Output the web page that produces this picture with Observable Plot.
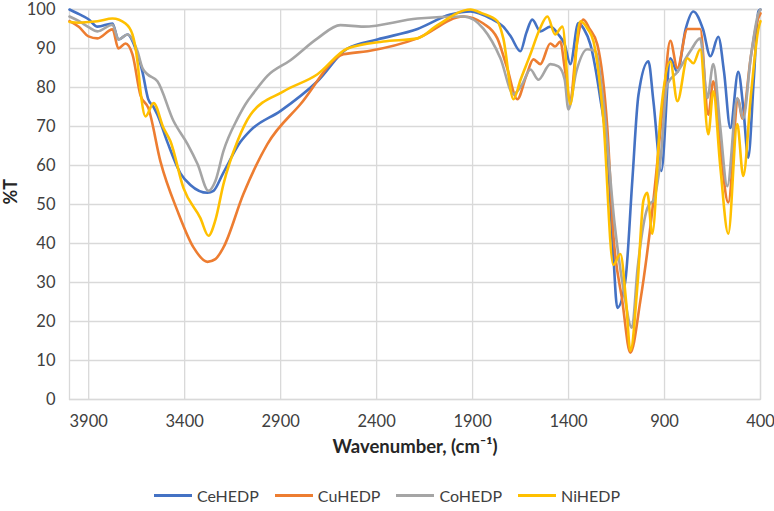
<!DOCTYPE html>
<html>
<head>
<meta charset="utf-8">
<script src="https://cdn.jsdelivr.net/npm/d3@7"></script>
<script src="https://cdn.jsdelivr.net/npm/@observablehq/plot@0.6"></script>
<style>
  html, body { margin: 0; padding: 0; background: #fff; }
  #chart { width: 774px; height: 511px; position: relative; font-family: "Lato", sans-serif; }
  #chart svg { overflow: visible; }
  #legend { position: absolute; left: 0; top: 486px; width: 774px; display: flex; justify-content: center; gap: 16px; font-size: 16px; color: #404040; }
  .item { display: flex; align-items: center; gap: 5px; }
  .sw { width: 38px; height: 3px; display: inline-block; }
</style>
</head>
<body>
<div id="chart"></div>
<script>
const seriesNames = ["CeHEDP", "CuHEDP", "CoHEDP", "NiHEDP"];
const seriesColors = ["#4472C4", "#ED7D31", "#A5A5A5", "#FFC000"];
const xTicks = [3900, 3400, 2900, 2400, 1900, 1400, 900, 400];
const yTicks = [0, 10, 20, 30, 40, 50, 60, 70, 80, 90, 100];

// [wavenumber, %T]
const ceHEDP = [[4000,100],[3950,98.8],[3901,97.5],[3854,95.6],[3776,96.4],[3745,92.3],[3698,93.6],[3656,90],[3620,84],[3590,77],[3562,75],[3542,73],[3490,66],[3422,58],[3370,55],[3281,53],[3250,53.5],[3200,58],[3110,66],[3057,69],[2900,74],[2708,81.6],[2552,90],[2396,92.3],[2187,95],[2016,98.7],[1911,99.5],[1807,97.7],[1740,95.6],[1700,93],[1651,89.3],[1620,94],[1589,97.4],[1547,94.4],[1495,95.6],[1453,93.6],[1420,91],[1391,86],[1349,96.5],[1320,95],[1286,91],[1234,77],[1198,63.7],[1167,37.3],[1146,23.5],[1104,30.5],[1068,56],[1036,78],[984,86.7],[958,76.5],[917,58.6],[870,87.5],[833,84],[790,95],[750,99.5],[700,95],[661,88],[620,93],[590,84],[557,69.6],[516,84],[490,75],[464,62],[435,82],[411,99.5],[400,100]];
const cuHEDP = [[4000,97],[3950,95.5],[3901,93.1],[3854,92.6],[3776,94.9],[3745,90],[3708,91.3],[3672,88.5],[3630,78],[3589,74.7],[3526,61],[3437,48.3],[3354,39],[3281,35.3],[3240,36],[3198,39],[3094,52.7],[2969,65.5],[2797,75.7],[2573,88.5],[2448,89.3],[2187,92.6],[1948,98.2],[1844,96.4],[1771,92.6],[1720,85],[1667,77],[1620,83],[1583,87.2],[1547,86],[1495,91.3],[1470,90.5],[1443,91.8],[1420,85],[1391,76.5],[1360,90],[1323,97.4],[1290,95],[1250,91],[1198,69.6],[1167,42.5],[1120,25.3],[1078,12],[1026,25.3],[958,51],[906,76.5],[870,92],[833,85],[781,95],[714,95],[672,73],[646,81.6],[610,65],[568,50.5],[516,77],[495,72],[450,88],[417,97],[400,99]];
const coHEDP = [[4000,98.2],[3950,97],[3901,95.5],[3854,94.4],[3776,96.1],[3745,92.3],[3698,93.6],[3646,89.3],[3620,85],[3594,83.4],[3542,81.6],[3458,71.4],[3385,65.5],[3333,60.4],[3276,53.5],[3240,56],[3198,63.7],[3125,72],[3073,76.5],[3050,78],[2969,83],[2849,87],[2708,92.6],[2589,96],[2469,95.6],[2187,97.7],[1948,98.2],[1844,95.1],[1755,87.5],[1687,78.3],[1640,81],[1599,84.6],[1557,82],[1495,86],[1453,85.4],[1420,82],[1401,74.4],[1360,84],[1302,89.8],[1260,89.3],[1219,76.5],[1160,45],[1115,28.6],[1070,18.4],[1040,33.8],[990,49],[970,50.5],[958,51],[922,61],[886,80.8],[833,84],[766,89.3],[714,92.6],[677,77.3],[646,86],[610,70],[573,54.7],[521,77.3],[490,72],[450,88],[411,99],[400,100]];
const niHEDP = [[4000,96.8],[3950,96.6],[3901,96.8],[3854,97],[3776,97.7],[3708,96.4],[3672,93.6],[3646,86.7],[3630,79],[3604,72.6],[3562,76],[3510,69.6],[3474,66.2],[3406,54.2],[3318,46.5],[3276,42],[3240,46],[3198,55.2],[3125,66.2],[3057,73],[2885,79],[2708,83.4],[2552,90],[2365,91.8],[2187,92.6],[2083,96],[1911,100],[1850,99],[1771,97],[1740,92.6],[1687,77],[1650,82],[1599,88.5],[1550,95],[1510,98.2],[1470,93.6],[1432,95.6],[1391,75.7],[1339,97],[1300,95],[1270,91.8],[1219,72],[1167,34.5],[1130,37.3],[1100,25],[1078,12.5],[1040,30],[1010,51],[990,53],[964,42.5],[922,72],[870,86.7],[833,76.5],[781,87.5],[750,86.2],[714,89.8],[672,68],[646,79],[610,60],[568,42.5],[521,70.6],[490,57.3],[450,78],[411,95],[400,97]];

const seriesData = [ceHEDP, cuHEDP, coHEDP, niHEDP];
const rows = [];
seriesData.forEach((arr, i) => arr.forEach(([w, t]) => rows.push({series: seriesNames[i], w, t})));

const chart = Plot.plot({
  width: 774,
  height: 486,
  marginLeft: 69,
  marginRight: 14,
  marginTop: 9,
  marginBottom: 87,
  style: {fontFamily: "Lato, sans-serif", fontSize: "16px", color: "#404040", background: "white", overflow: "visible"},
  x: {domain: [4000, 400], label: null},
  y: {domain: [0, 100], label: null},
  color: {domain: seriesNames, range: seriesColors},
  marks: [
    Plot.gridX(xTicks, {stroke: "#d9d9d9", strokeOpacity: 1, strokeWidth: 1.3}),
    Plot.gridY(yTicks, {stroke: "#d9d9d9", strokeOpacity: 1, strokeWidth: 1.3}),
    Plot.frame({stroke: "#d9d9d9", strokeWidth: 1.3}),
    Plot.axisX(xTicks, {tickSize: 0, tickPadding: 16, label: null, fontSize: 16.5, tickFormat: d => String(d)}),
    Plot.axisY(yTicks, {tickSize: 0, tickPadding: 14, label: null, fontSize: 16.5, tickFormat: d => String(d)}),
    Plot.line(rows, {x: "w", y: "t", z: "series", stroke: "series", strokeWidth: 2.6, curve: "monotone-x"}),
    Plot.text(["Wavenumber, (cm\u207B\u00B9)"], {frameAnchor: "bottom", dy: 53, fontWeight: "bold", fontSize: 18.5, fill: "#262626"}),
    Plot.text(["%T"], {frameAnchor: "left", dx: -58, rotate: -90, fontWeight: "bold", fontSize: 18, fill: "#262626"})
  ]
});
document.getElementById("chart").appendChild(chart);

const legend = document.createElement("div");
legend.id = "legend";
seriesNames.forEach((n, i) => {
  const it = document.createElement("div");
  it.className = "item";
  const sw = document.createElement("span");
  sw.className = "sw";
  sw.style.background = seriesColors[i];
  const lb = document.createElement("span");
  lb.textContent = n;
  it.appendChild(sw); it.appendChild(lb);
  legend.appendChild(it);
});
document.getElementById("chart").appendChild(legend);
</script>
</body>
</html>
